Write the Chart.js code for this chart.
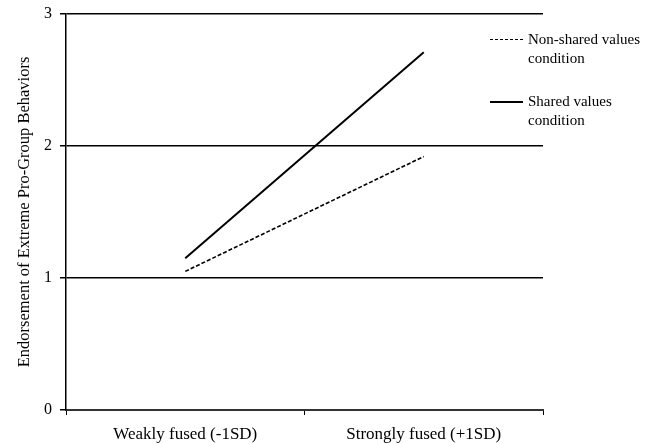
<!DOCTYPE html>
<html lang="en">
  <head>
    <meta charset="utf-8" />
    <title>Fusion x Shared values</title>
    <style>
      * {
        margin: 0;
        padding: 0;
      }
      body {
        background: white;
        font-family: "Liberation Serif", serif;
      }
      .chartBox {
        position: relative;
        width: 654px;
        height: 444px;
      }
      .legend {
        position: absolute;
        left: 490px;
        top: 30px;
        font-size: 15px;
        line-height: 18.5px;
        color: #000;
      }
      .legend .item {
        display: flex;
        align-items: flex-start;
        margin-bottom: 25px;
      }
      .legend .swatch {
        width: 33px;
        margin-top: 9px;
        margin-right: 5px;
        border-top: 2px solid #000;
      }
      .legend .swatch.dashed {
        border-top: 1px dashed #000;
      }
    </style>
  </head>
  <body>
    <div class="chartBox">
      <canvas id="myChart" width="654" height="444"></canvas>
      <div class="legend" id="legend"></div>
    </div>

    <script src="https://cdn.jsdelivr.net/npm/chart.js"></script>

    <script>
      // data block
      const categories = ["Weakly fused (-1SD)", "Strongly fused (+1SD)"];
      const nonSharedValues = [1.05, 1.92];
      const sharedValues = [1.15, 2.71];
      const seriesNames = [
        ["Non-shared values", "condition"],
        ["Shared values", "condition"],
      ];
      const yTicks = [0, 1, 2, 3];

      const data = {
        labels: categories,
        datasets: [
          {
            label: seriesNames[0].join(" "),
            data: nonSharedValues,
            borderColor: "#000",
            borderWidth: 1.6,
            borderDash: [4, 2],
            pointRadius: 0,
            fill: false,
          },
          {
            label: seriesNames[1].join(" "),
            data: sharedValues,
            borderColor: "#000",
            borderWidth: 2,
            pointRadius: 0,
            fill: false,
          },
        ],
      };

      const serif = "'Liberation Serif', 'Times New Roman', serif";

      // config block
      const config = {
        type: "line",
        data: data,
        options: {
          responsive: false,
          animation: false,
          layout: {
            padding: { top: 14, right: 111, bottom: 0, left: 0 },
          },
          plugins: {
            legend: { display: false },
            tooltip: { enabled: false },
          },
          scales: {
            x: {
              offset: true,
              grid: {
                offset: true,
                drawOnChartArea: false,
                drawTicks: true,
                tickLength: 5,
                color: "#000",
              },
              border: { color: "#333", width: 2 },
              ticks: {
                color: "#000",
                font: { family: serif, size: 17 },
                padding: 9,
                maxRotation: 0,
              },
              afterFit: (scale) => {
                scale.height = 34;
              },
            },
            y: {
              min: 0,
              max: 3,
              afterBuildTicks: (scale) => {
                scale.ticks = yTicks.map((v) => ({ value: v }));
              },
              grid: {
                color: "#000",
                lineWidth: 1.5,
                tickLength: 6,
              },
              border: { color: "#000", width: 1.5 },
              ticks: {
                color: "#000",
                font: { family: serif, size: 16 },
                padding: 8,
              },
              title: {
                display: true,
                text: "Endorsement of Extreme Pro-Group Behaviors",
                color: "#000",
                font: { family: serif, size: 16.5 },
                padding: { top: 15, bottom: 0 },
              },
              afterFit: (scale) => {
                scale.width = 66;
                scale.paddingTop = 0;
                scale.paddingBottom = 0;
              },
            },
          },
        },
      };

      // init render block
      const myChart = new Chart(document.getElementById("myChart"), config);

      // html legend built from the datasets
      const legend = document.getElementById("legend");
      myChart.data.datasets.forEach((ds, i) => {
        const item = document.createElement("div");
        item.className = "item";
        const swatch = document.createElement("span");
        swatch.className = ds.borderDash ? "swatch dashed" : "swatch";
        const text = document.createElement("span");
        text.innerHTML = seriesNames[i].join("<br>");
        item.appendChild(swatch);
        item.appendChild(text);
        legend.appendChild(item);
      });
    </script>
  </body>
</html>
